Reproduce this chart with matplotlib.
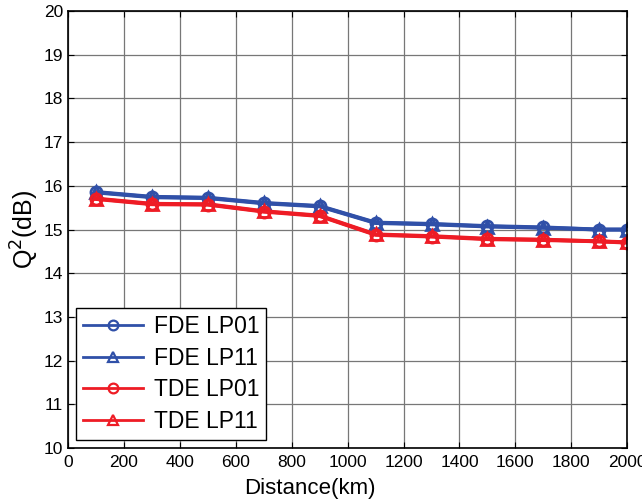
import matplotlib
matplotlib.use("Agg")
import matplotlib.pyplot as plt

plt.rcParams['font.family'] = ['Liberation Sans', 'DejaVu Sans']

distance = [100, 300, 500, 700, 900, 1100, 1300, 1500, 1700, 1900, 2000]
fde_lp01 = [15.86, 15.75, 15.73, 15.61, 15.54, 15.16, 15.13, 15.08, 15.05, 15.00, 15.00]
fde_lp11 = [15.85, 15.74, 15.72, 15.60, 15.53, 15.15, 15.12, 15.07, 15.04, 15.00, 15.00]
tde_lp01 = [15.70, 15.58, 15.57, 15.41, 15.31, 14.88, 14.84, 14.78, 14.76, 14.73, 14.70]
tde_lp11 = [15.71, 15.59, 15.58, 15.42, 15.32, 14.89, 14.85, 14.79, 14.77, 14.73, 14.71]

blue = '#3050a8'
red = '#ee1c25'

fig = plt.figure(figsize=(6.42, 5.04), dpi=100)
ax = fig.add_axes([0.106, 0.111, 0.871, 0.867])

ax.plot(distance, fde_lp01, '-o', color=blue, lw=2.8, ms=8, mfc='none', mew=2, label='FDE LP01')
ax.plot(distance, fde_lp11, '-^', color=blue, lw=2.8, ms=9, mfc='none', mew=2, label='FDE LP11')
ax.plot(distance, tde_lp01, '-o', color=red, lw=2.8, ms=8, mfc='none', mew=2, label='TDE LP01')
ax.plot(distance, tde_lp11, '-^', color=red, lw=2.8, ms=9, mfc='none', mew=2, label='TDE LP11')

ax.set_xlim(0, 2000)
ax.set_ylim(10, 20)
ax.set_xticks(range(0, 2001, 200))
ax.set_yticks(range(10, 21))
ax.grid(True, color='#777777', lw=0.9)
ax.tick_params(direction='in', labelsize=12.5, length=4, top=True, right=True)
ax.tick_params(axis='x', pad=5)
for s in ax.spines.values():
    s.set_linewidth(1.2)

ax.set_xlabel('Distance(km)', fontsize=16)
ax.xaxis.set_label_coords(0.433, -0.068)
ax.set_ylabel('Q$^2$(dB)', fontsize=18, labelpad=2)

leg = ax.legend(loc='lower left', fontsize=16.5, frameon=True, fancybox=False,
                edgecolor='black', framealpha=1, handlelength=2.6,
                borderaxespad=0.35, labelspacing=0.38, borderpad=0.3,
                handletextpad=0.5)
leg.get_frame().set_linewidth(1.0)
for h in leg.get_lines():
    h.set_linewidth(2.0)
    h.set_markersize(7)
    h.set_markeredgewidth(1.6)

fig.savefig('out.png', dpi=100)
